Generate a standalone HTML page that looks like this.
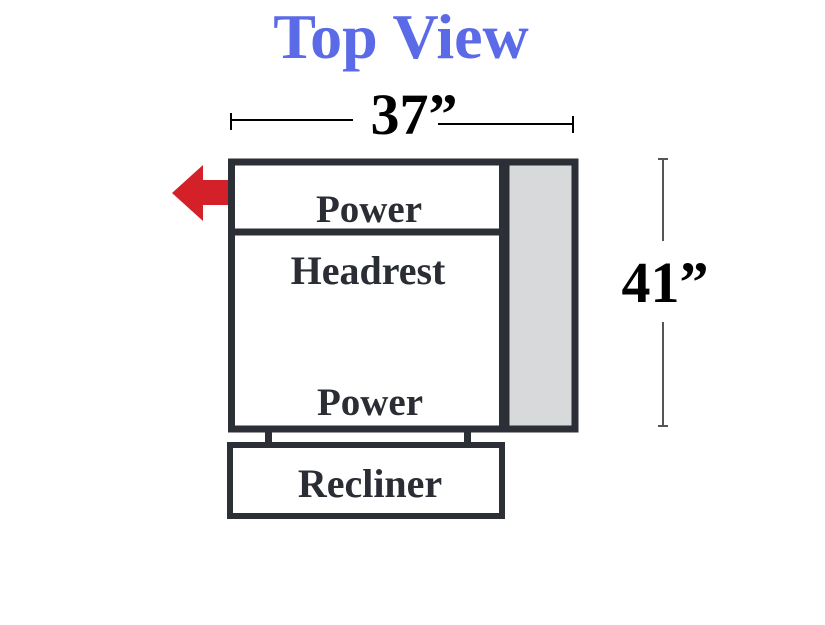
<!DOCTYPE html>
<html><head><meta charset="utf-8"><style>
body{margin:0;background:#fff;}
svg{display:block}
text{font-family:"Liberation Serif",serif;font-weight:bold;}
</style></head><body>
<svg width="825" height="625" viewBox="0 0 825 625">
<text x="401" y="58" font-size="64" fill="#5b6ae6" text-anchor="middle">Top View</text>
<!-- width dimension -->
<line x1="231" y1="120" x2="353" y2="120" stroke="#000" stroke-width="2"/>
<line x1="231" y1="113" x2="231" y2="130" stroke="#000" stroke-width="2"/>
<line x1="438" y1="124" x2="573" y2="124" stroke="#000" stroke-width="2"/>
<line x1="573" y1="116" x2="573" y2="133" stroke="#000" stroke-width="2"/>
<text x="414" y="134" font-size="58" fill="#000" text-anchor="middle">37”</text>
<!-- height dimension -->
<line x1="663" y1="158" x2="663" y2="241" stroke="#555" stroke-width="2"/>
<line x1="658" y1="159" x2="668" y2="159" stroke="#555" stroke-width="2"/>
<line x1="663" y1="322" x2="663" y2="427" stroke="#555" stroke-width="2"/>
<line x1="658" y1="426" x2="668" y2="426" stroke="#555" stroke-width="2"/>
<text x="665" y="302" font-size="58" fill="#000" text-anchor="middle">41”</text>
<!-- arrow -->
<polygon points="172,193 203,165 203,180 230,180 230,205 203,205 203,221" fill="#d42029"/>
<!-- arm -->
<rect x="506" y="162" width="69" height="267" fill="#d8d9db" stroke="#2d2f36" stroke-width="7"/>
<!-- main -->
<rect x="231.5" y="162" width="271" height="267" fill="#fff" stroke="#2d2f36" stroke-width="7"/>
<line x1="231" y1="232" x2="503" y2="232" stroke="#2d2f36" stroke-width="7"/>
<!-- legs -->
<rect x="265" y="430" width="7" height="16" fill="#2d2f36"/>
<rect x="464" y="430" width="7" height="16" fill="#2d2f36"/>
<rect x="230" y="445" width="272" height="71" fill="#fff" stroke="#2d2f36" stroke-width="6"/>
<g fill="#2b2d35" text-anchor="middle">
<text x="369" y="222" font-size="39">Power</text>
<text x="368" y="284" font-size="40">Headrest</text>
<text x="370" y="415" font-size="39">Power</text>
<text x="370" y="497" font-size="40">Recliner</text>
</g>
</svg>
</body></html>
